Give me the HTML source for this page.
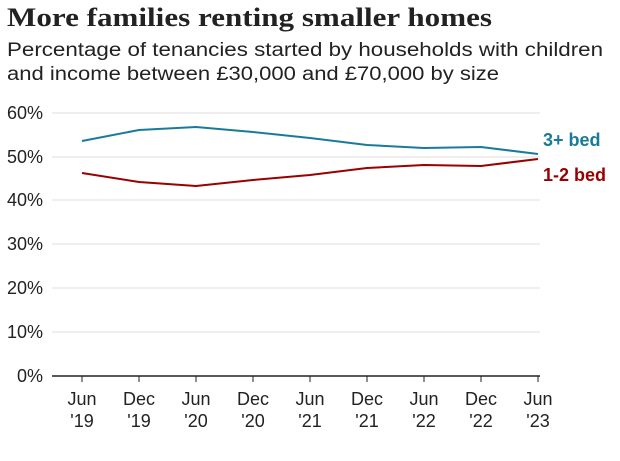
<!DOCTYPE html>
<html><head><meta charset="utf-8"><style>
body{margin:0;background:#fff;width:620px;height:456px;overflow:hidden}
</style></head><body>
<svg width="620" height="456" xmlns="http://www.w3.org/2000/svg" font-family="Liberation Sans, sans-serif">
<text x="7" y="26" font-family="Liberation Serif, serif" font-weight="bold" font-size="26" fill="#222" textLength="485" lengthAdjust="spacingAndGlyphs">More families renting smaller homes</text>
<text x="7" y="56" font-size="19" fill="#222" textLength="596" lengthAdjust="spacingAndGlyphs">Percentage of tenancies started by households with children</text>
<text x="7" y="80" font-size="19" fill="#222" textLength="492" lengthAdjust="spacingAndGlyphs">and income between £30,000 and £70,000 by size</text>
<g stroke="#ddd" stroke-width="1">
<line x1="52" x2="540" y1="113" y2="113"/><line x1="52" x2="540" y1="157" y2="157"/>
<line x1="52" x2="540" y1="200" y2="200"/><line x1="52" x2="540" y1="244" y2="244"/>
<line x1="52" x2="540" y1="288" y2="288"/><line x1="52" x2="540" y1="332" y2="332"/>
</g>
<line x1="52" x2="540" y1="376" y2="376" stroke="#222" stroke-width="1.5"/>
<g font-size="18" fill="#222">
<text x="7" y="119">60%</text><text x="7" y="163">50%</text><text x="7" y="206">40%</text>
<text x="7" y="250">30%</text><text x="7" y="294">20%</text><text x="7" y="338">10%</text><text x="17" y="382">0%</text>
</g>
<g stroke="#222" stroke-width="1">
<line x1="82" x2="82" y1="376" y2="382"/><line x1="139" x2="139" y1="376" y2="382"/><line x1="196" x2="196" y1="376" y2="382"/>
<line x1="253" x2="253" y1="376" y2="382"/><line x1="310" x2="310" y1="376" y2="382"/><line x1="367" x2="367" y1="376" y2="382"/>
<line x1="424" x2="424" y1="376" y2="382"/><line x1="481" x2="481" y1="376" y2="382"/><line x1="538" x2="538" y1="376" y2="382"/>
</g>
<g font-size="18" fill="#222" text-anchor="middle">
<text x="82" y="405">Jun</text><text x="82" y="427">'19</text>
<text x="139" y="405">Dec</text><text x="139" y="427">'19</text>
<text x="196" y="405">Jun</text><text x="196" y="427">'20</text>
<text x="253" y="405">Dec</text><text x="253" y="427">'20</text>
<text x="310" y="405">Jun</text><text x="310" y="427">'21</text>
<text x="367" y="405">Dec</text><text x="367" y="427">'21</text>
<text x="424" y="405">Jun</text><text x="424" y="427">'22</text>
<text x="481" y="405">Dec</text><text x="481" y="427">'22</text>
<text x="538" y="405">Jun</text><text x="538" y="427">'23</text>
</g>
<polyline fill="none" stroke="#1a7a9a" stroke-width="2" points="82,141 139,130 196,127 253,132 310,138 367,145 424,148 481,147 538,154"/>
<polyline fill="none" stroke="#990000" stroke-width="2" points="82,173 139,182 196,186 253,180 310,175 367,168 424,165 481,166 538,159"/>
<text x="543" y="146" font-size="18" font-weight="bold" fill="#1a7a9a">3+ bed</text>
<text x="543" y="181" font-size="18" font-weight="bold" fill="#990000">1-2 bed</text>
</svg>
</body></html>
